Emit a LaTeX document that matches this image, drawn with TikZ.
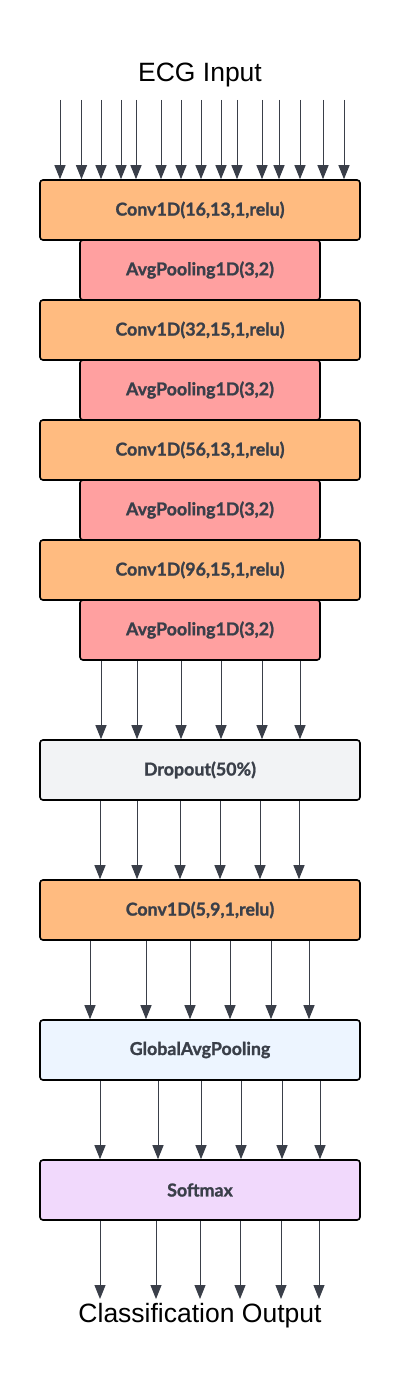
\documentclass[tikz,border=0pt]{standalone}
\usepackage{fontspec}
\setmainfont{Liberation Sans}
\newfontfamily\lato{Lato}[BoldFeatures={FakeBold=1.2}]
\usetikzlibrary{arrows.meta}
\definecolor{convc}{HTML}{FFBB80}
\definecolor{poolc}{HTML}{FFA0A0}
\definecolor{dropc}{HTML}{F2F3F5}
\definecolor{gapc}{HTML}{EDF5FF}
\definecolor{softc}{HTML}{F1D9FC}
\definecolor{inkc}{HTML}{3A3F49}
\tikzset{
  box/.style={draw=black, line width=1.6pt, rounded corners=3pt, minimum height=60pt, inner sep=0pt,
    font=\lato\bfseries\fontsize{17.8}{20}\selectfont, text=inkc},
  wide/.style={box, minimum width=320pt},
  narrow/.style={box, minimum width=240pt},
  arr/.style={draw=inkc, line width=1pt, -{Triangle[length=14pt,width=11pt]}},
  title/.style={font=\fontsize{26.5}{30}\selectfont, text=black, inner sep=0pt, anchor=base}
}
\begin{document}
\begin{tikzpicture}[x=1pt,y=-1pt]
\useasboundingbox (0,0) rectangle (400,1394);
\node[title] (inp) at (200,82) {ECG Input};
% pool boxes first so conv boxes draw on top
\node[narrow, fill=poolc] (p1) at (200,270) {AvgPooling1D(3,2)};
\node[narrow, fill=poolc] (p2) at (200,390) {AvgPooling1D(3,2)};
\node[narrow, fill=poolc] (p3) at (200,510) {AvgPooling1D(3,2)};
\node[narrow, fill=poolc] (p4) at (200,630) {AvgPooling1D(3,2)};
\node[wide, fill=convc] (c1) at (200,210) {Conv1D(16,13,1,relu)};
\node[wide, fill=convc] (c2) at (200,330) {Conv1D(32,15,1,relu)};
\node[wide, fill=convc] (c3) at (200,450) {Conv1D(56,13,1,relu)};
\node[wide, fill=convc] (c4) at (200,570) {Conv1D(96,15,1,relu)};
\node[wide, fill=dropc] (dr) at (200,770) {Dropout(50\%)};
\node[wide, fill=convc] (c5) at (200,910) {Conv1D(5,9,1,relu)};
\node[wide, fill=gapc] (gap) at (200,1050) {GlobalAvgPooling};
\node[wide, fill=softc] (sm) at (200,1190) {Softmax};
\node[title] (out) at (200,1322) {Classification Output};
\coordinate (topin) at (200,100);
\coordinate (botout) at (200,1299);
% input arrows
\foreach \x in {60,81.5,101,121,136,161,181,201,221,237,262,279,300,323,344}
  \draw[arr] (topin -| \x,0) -- (c1.north -| \x,0);
\foreach \x in {101,137,181,221,262,300}
  \draw[arr] (p4.south -| \x,0) -- (dr.north -| \x,0);
\foreach \x in {100,137,180,220,260,299}
  \draw[arr] (dr.south -| \x,0) -- (c5.north -| \x,0);
\foreach \x in {90,146,190,230,271,309}
  \draw[arr] (c5.south -| \x,0) -- (gap.north -| \x,0);
\foreach \x in {100,158,201,241,282,320}
  \draw[arr] (gap.south -| \x,0) -- (sm.north -| \x,0);
\foreach \x in {100,156,200,240,281,319}
  \draw[arr] (sm.south -| \x,0) -- (botout -| \x,0);
\end{tikzpicture}
\end{document}
